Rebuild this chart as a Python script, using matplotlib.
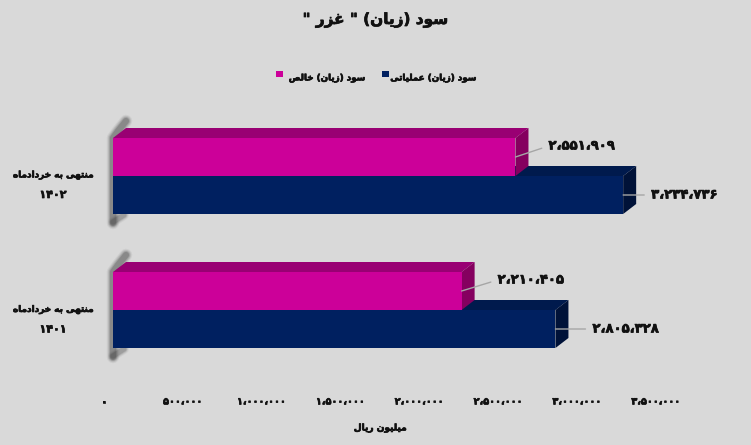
import matplotlib as mp
mp.use('Agg')
import matplotlib.pyplot as plt
import matplotlib.patheffects as pe
from matplotlib.patches import Polygon
from matplotlib.ticker import FixedLocator

W, H = 751, 445

categories = ['منتهی به خردادماه', 'منتهی به خردادماه']
years = ['۱۴۰۲', '۱۴۰۱']
net_profit = [2551909, 2210405]
operating_profit = [3234736, 2805328]
net_labels = ['۲،۵۵۱،۹۰۹', '۲،۲۱۰،۴۰۵']
operating_labels = ['۳،۲۳۴،۷۳۶', '۲،۸۰۵،۳۲۸']
tick_values = [0, 500000, 1000000, 1500000, 2000000, 2500000, 3000000, 3500000]
tick_labels = ['۰', '۵۰۰،۰۰۰', '۱،۰۰۰،۰۰۰', '۱،۵۰۰،۰۰۰', '۲،۰۰۰،۰۰۰',
               '۲،۵۰۰،۰۰۰', '۳،۰۰۰،۰۰۰', '۳،۵۰۰،۰۰۰']
title = 'سود (زیان) " غزر "'
net_name = 'سود (زیان) خالص'
operating_name = 'سود (زیان) عملیاتی'
axis_name = 'میلیون ریال'

# matplotlib does no arabic shaping, so map letters to presentation forms
# (isolated, final, initial, medial)
FORMS = {
    'ا': (0xFE8D, 0xFE8E), 'ب': (0xFE8F, 0xFE90, 0xFE91, 0xFE92),
    'ت': (0xFE95, 0xFE96, 0xFE97, 0xFE98), 'خ': (0xFEA5, 0xFEA6, 0xFEA7, 0xFEA8),
    'د': (0xFEA9, 0xFEAA), 'ر': (0xFEAD, 0xFEAE), 'ز': (0xFEAF, 0xFEB0),
    'س': (0xFEB1, 0xFEB2, 0xFEB3, 0xFEB4), 'ص': (0xFEB9, 0xFEBA, 0xFEBB, 0xFEBC),
    'ع': (0xFEC9, 0xFECA, 0xFECB, 0xFECC), 'غ': (0xFECD, 0xFECE, 0xFECF, 0xFED0),
    'ل': (0xFEDD, 0xFEDE, 0xFEDF, 0xFEE0), 'م': (0xFEE1, 0xFEE2, 0xFEE3, 0xFEE4),
    'ن': (0xFEE5, 0xFEE6, 0xFEE7, 0xFEE8), 'ه': (0xFEE9, 0xFEEA, 0xFEEB, 0xFEEC),
    'و': (0xFEED, 0xFEEE), 'ی': (0xFBFC, 0xFBFD, 0xFBFE, 0xFBFF),
}
MIRROR = {'(': ')', ')': '('}


def shape(s):
    out = []
    for i, c in enumerate(s):
        if c not in FORMS:
            out.append(MIRROR.get(c, c))
            continue
        prev = s[i - 1] if i > 0 else ''
        nxt = s[i + 1] if i + 1 < len(s) else ''
        join_prev = prev in FORMS and len(FORMS[prev]) == 4
        join_next = nxt in FORMS and len(FORMS[c]) == 4
        if join_prev and join_next:
            k = 3
        elif join_next:
            k = 2
        elif join_prev:
            k = 1
        else:
            k = 0
        out.append(chr(FORMS[c][k]))
    return ''.join(reversed(out))


plt.rcParams['font.family'] = ['DejaVu Sans']
plt.rcParams['font.weight'] = 'bold'

BG = '#D9D9D9'
INK = '#111111'
PINK = ('#CC0099', '#990073', '#85005F')
NAVY = ('#002060', '#001A4D', '#001238')
HEAVY = [pe.withStroke(linewidth=0.5, foreground=INK)]

fig = plt.figure(figsize=(W / 100, H / 100), dpi=100, facecolor=BG)
# x=0 at pixel 113, 3,500,000 at pixel 665; categories span pixel 109..377
ax = fig.add_axes([113 / W, 1 - 377 / H, 552 / W, 268 / H], facecolor='none')
ax.set_xlim(0, 3500000)
ax.set_ylim(1.5, -0.5)
for s in ax.spines.values():
    s.set_visible(False)

PX = 3500000 / 552.0   # one pixel in x data units
PY = 1 / 134.0         # one pixel in y data units
bar_h = 38 * PY
dx = 13 * PX
dy = 10 * PY


def box(y0, y1, value, cols):
    ax.barh((y0 + y1) / 2, value, height=y1 - y0, color=cols[0], linewidth=0, zorder=3)
    ax.add_patch(Polygon([(0, y0), (dx, y0 - dy), (value + dx, y0 - dy), (value, y0)],
                         fc=cols[1], lw=0, zorder=2))
    ax.add_patch(Polygon([(value, y0), (value + dx, y0 - dy), (value + dx, y1 - dy), (value, y1)],
                         fc=cols[2], lw=0, zorder=2))


def shadow(i):
    # soft dark wall behind the base: stacked translucent strokes fake the blur
    xs = [13 * PX, 5 * PX, 0, 0, 0]
    ys = [i - 55 * PY, i - 45 * PY, i - 38 * PY, i + 38 * PY, i + 47 * PY]
    xs2 = [0, 11 * PX]
    ys2 = [i + 46 * PY, i + 39 * PY]
    for lw, a in [(9, 0.06), (7.5, 0.10), (6, 0.15), (4.5, 0.20)]:
        ax.plot(xs, ys, color='#202020', lw=lw, alpha=a, solid_capstyle='round',
                solid_joinstyle='round', clip_on=False, zorder=1)
        ax.plot(xs2, ys2, color='#202020', lw=lw * 0.8, alpha=a * 0.7, solid_capstyle='round',
                clip_on=False, zorder=1)


def value_label(txt, x, y, y_text, gap):
    ax.annotate(txt, xy=(x, y), xytext=(x + gap * PX, y_text),
                va='center', ha='left', fontsize=9.5, color=INK, path_effects=HEAVY, zorder=5,
                arrowprops=dict(arrowstyle='-', color='#A6A6A6', lw=1, shrinkA=3, shrinkB=0,
                                relpos=(0, 0.5), zorder=4))


net_gap = [33, 36]
operating_gap = [28, 37]
for i in range(len(categories)):
    shadow(i)
    # navy first so that the pink side face sits on top of its back edge
    box(i, i + bar_h, operating_profit[i], NAVY)
    box(i - bar_h, i, net_profit[i], PINK)

    value_label(net_labels[i], net_profit[i], i - 19 * PY, i - 30 * PY, net_gap[i])
    value_label(operating_labels[i], operating_profit[i], i + 19 * PY, i + 19 * PY, operating_gap[i])

    fig.text(53 / W, 1 - (175 + 134.5 * i) / H, shape(categories[i]), ha='center', va='center',
             fontsize=6.4, color=INK, path_effects=HEAVY)
    fig.text(53 / W, 1 - (195 + 134.5 * i) / H, years[i], ha='center', va='center',
             fontsize=8, color=INK, path_effects=HEAVY)

# tick labels sit left of the bars because of the 3d depth
ax.xaxis.set_major_locator(FixedLocator(tick_values))
ax.set_xticklabels(tick_labels, fontsize=7, color=INK)
ax.tick_params(axis='x', length=0, pad=14)
ax.set_yticks([])
for t in ax.get_xticklabels():
    t.set_path_effects(HEAVY)
    t.set_transform(t.get_transform() + mp.transforms.ScaledTranslation(-9 / 100, 0, fig.dpi_scale_trans))

fig.text(375 / W, 1 - 20 / H, shape(title), ha='center', va='center', fontsize=11, color=INK,
         path_effects=HEAVY)
fig.text(380 / W, 1 - 428 / H, shape(axis_name), ha='center', va='center', fontsize=6.5, color=INK,
         path_effects=HEAVY)

# legend, laid out by hand to keep the right-to-left order of the original
fig.patches.append(plt.Rectangle((382 / W, 1 - 77 / H), 7 / W, 6 / H, fc=NAVY[0], lw=0,
                                 transform=fig.transFigure, figure=fig))
fig.patches.append(plt.Rectangle((276 / W, 1 - 77 / H), 7 / W, 6 / H, fc=PINK[0], lw=0,
                                 transform=fig.transFigure, figure=fig))
fig.text(476 / W, 1 - 78 / H, shape(operating_name), ha='right', va='center', fontsize=6.3, color=INK,
         path_effects=HEAVY)
fig.text(365 / W, 1 - 78 / H, shape(net_name), ha='right', va='center', fontsize=6.3, color=INK,
         path_effects=HEAVY)

fig.savefig('out.png', dpi=100, facecolor=BG)
